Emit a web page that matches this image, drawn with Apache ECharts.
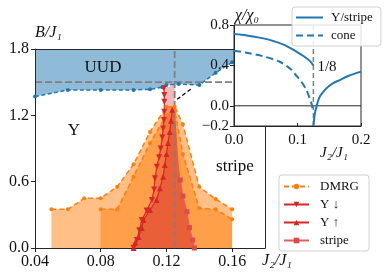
<!DOCTYPE html>
<html><head><meta charset="utf-8">
<script src="https://cdn.jsdelivr.net/npm/echarts@6/dist/echarts.min.js"></script>
<style>html,body{margin:0;padding:0;background:#fff}#c{width:388px;height:278px}</style>
</head><body><div id="c"></div>
<script>
// ---------- data ----------
const mainXTicks = [0.04, 0.08, 0.12, 0.16];
const mainYTicks = [0.0, 0.6, 1.2, 1.8];
const insetXTicks = [0.0, 0.1, 0.2];
const insetYTicks = [-0.2, 0.0, 0.4, 0.8];

// UUD lower boundary (blue dashed)
const uudBoundary = [[0.04,1.37],[0.06,1.43],[0.08,1.43],[0.10,1.43],[0.11,1.435],[0.1175,1.455],[0.12,1.475],[0.1275,1.483],[0.14,1.474],[0.15,1.585],[0.16,1.68],[0.17,1.76],[0.18,1.80]];
// DMRG boundaries
const dmrgOuter = [[0.05,0.35],[0.06,0.35],[0.07,0.45],[0.08,0.45],[0.09,0.554],[0.10,0.757],[0.11,1.05],[0.12,1.277],[0.125,1.277],[0.13,1.12],[0.14,0.554],[0.15,0.443],[0.16,0.35]];
const dmrgInner = [[0.08,0.35],[0.09,0.35],[0.10,0.645],[0.11,0.95],[0.12,1.2],[0.125,1.25],[0.13,0.85],[0.14,0.36],[0.15,0.35],[0.16,0.26]];
// Y down / Y up / stripe
const yDown = [[0.100,0.0],[0.102,0.072],[0.1035,0.16],[0.105,0.253],[0.108,0.34],[0.1112,0.434],[0.1125,0.53],[0.113,0.63],[0.1142,0.735],[0.1155,0.82],[0.1165,0.9],[0.1175,1.0],[0.118,1.08],[0.1185,1.157],[0.1187,1.232],[0.1187,1.323],[0.1187,1.383],[0.1185,1.444]];
const yUp = [[0.100,0.0],[0.101,0.05],[0.103,0.10],[0.105,0.18],[0.106,0.253],[0.110,0.344],[0.114,0.434],[0.116,0.54],[0.118,0.645],[0.119,0.75],[0.120,0.85],[0.121,0.95],[0.122,1.05],[0.1228,1.15],[0.1235,1.25]];
const stripeUpper = [[0.125,1.475],[0.125,1.27],[0.1258,1.1],[0.1265,0.95],[0.1272,0.8]];
const stripe = [[0.1284,0.615],[0.130,0.47],[0.1325,0.328],[0.134,0.184],[0.136,0.072],[0.137,0.0]];
const dashSegment = [[0.1265,1.345],[0.1355,1.444]];

// inset: susceptibility
const chiYLeft = [[0,0.71],[0.02,0.697],[0.04,0.675],[0.06,0.645],[0.08,0.6],[0.10,0.53],[0.11,0.49],[0.12,0.44],[0.125,0.40]];
const chiYRight = [[0.125,-0.2],[0.1255,-0.173],[0.127,-0.09],[0.1298,-0.009],[0.135,0.09],[0.1455,0.173],[0.155,0.22],[0.1665,0.255],[0.18,0.295],[0.2,0.338]];
const chiCone = [[0,0.545],[0.02,0.525],[0.046,0.49],[0.072,0.436],[0.09,0.36],[0.098,0.30],[0.106,0.24],[0.114,0.156],[0.1195,0.07],[0.122,0.025],[0.124,-0.04]];

// ---------- styling ----------
const SERIF = '"Liberation Serif","DejaVu Serif",serif';
const AX = '#262626';
const BLUE = '#1f77b4', ORANGE = '#ff7f0e', RED = '#d62728', GRAY = '#808080';

function poly(points, fill, z) {
  return {type:'custom', xAxisIndex:0, yAxisIndex:0, z:z, silent:true, clip:true,
    data:[[0.1,0.5]],
    renderItem:(params, api) => ({type:'polygon',
      shape:{points: points.map(p => api.coord(p))}, style:{fill:fill}})};
}
const uudPoly = [[0.04,1.8],[0.18,1.8]].concat(uudBoundary.slice().reverse());
const outerPoly = dmrgOuter.concat([[0.16,0],[0.05,0]]);
const innerPoly = dmrgInner.concat([[0.16,0],[0.08,0]]);
const red1Poly = yDown.concat(stripeUpper, stripe);
const red2Poly = yUp.concat([[0.125,1.27]], stripeUpper.slice(2), stripe);

function lineS(name, data, color, opts) {
  return Object.assign({type:'line', name:name, data:data, xAxisIndex:0, yAxisIndex:0, z:4,
    symbol:'none', silent:true, clip:true,
    lineStyle:{color:color, width:1.5}, itemStyle:{color:color}}, opts || {});
}
function insetS(name, data, color, opts) {
  return Object.assign({type:'line', name:name, data:data, xAxisIndex:2, yAxisIndex:2, z:7,
    symbol:'none', silent:true, clip:true, smooth:0.3,
    lineStyle:{color:color, width:2}, itemStyle:{color:color}}, opts || {});
}

const tickFmt2 = v => mainXTicks.some(t => Math.abs(t - v) < 1e-9) ? v.toFixed(2) : '';
const chart = echarts.init(document.getElementById('c'), null, {renderer:'canvas'});
chart.setOption({
  animation:false,
  backgroundColor:'#fff',
  grid:[
    {left:35, top:49, width:230, height:199},
    {left:234, top:25, width:127, height:101, show:true, backgroundColor:'#fff', borderColor:AX, borderWidth:1, z:5}
  ],
  xAxis:[
    {type:'value', gridIndex:0, min:0.04, max:0.18, interval:0.04, z:3,
     axisLine:{show:true, onZero:false, lineStyle:{color:AX, width:1}},
     axisTick:{show:true, length:4, lineStyle:{color:AX}},
     splitLine:{show:false},
     axisLabel:{margin:6, formatter:tickFmt2, fontFamily:SERIF, fontSize:16, color:'#111', showMaxLabel:false}},
    {type:'value', gridIndex:0, position:'top', min:0.04, max:0.18, z:3,
     axisLine:{show:true, onZero:false, lineStyle:{color:AX, width:1}},
     axisTick:{show:false}, axisLabel:{show:false}, splitLine:{show:false}},
    {type:'value', gridIndex:1, min:0, max:0.2, interval:0.1, z:6,
     axisLine:{show:true, onZero:false, lineStyle:{color:AX}},
     axisTick:{show:true, inside:true, length:3, lineStyle:{color:AX}},
     splitLine:{show:false},
     axisLabel:{margin:7, formatter:v => v.toFixed(1), fontFamily:SERIF, fontSize:15, color:'#111'}}
  ],
  yAxis:[
    {type:'value', gridIndex:0, min:0, max:1.8, interval:0.6, z:3,
     axisLine:{show:true, onZero:false, lineStyle:{color:AX, width:1}},
     axisTick:{show:true, length:4, lineStyle:{color:AX}},
     splitLine:{show:false},
     axisLabel:{margin:6, formatter:v => v.toFixed(1), fontFamily:SERIF, fontSize:16, color:'#111'}},
    {type:'value', gridIndex:0, position:'right', min:0, max:1.8, z:3,
     axisLine:{show:true, onZero:false, lineStyle:{color:AX, width:1}},
     axisTick:{show:false}, axisLabel:{show:false}, splitLine:{show:false}},
    {type:'value', gridIndex:1, min:-0.2, max:0.8, z:6,
     axisLine:{show:true, onZero:false, lineStyle:{color:AX}},
     axisTick:{show:true, length:4, customValues:insetYTicks, lineStyle:{color:AX}},
     splitLine:{show:false},
     axisLabel:{margin:5, customValues:insetYTicks, formatter:v => (v < 0 ? '\u2212' + Math.abs(v).toFixed(1) : v.toFixed(1)), fontFamily:SERIF, fontSize:15, color:'#111'}}
  ],
  legend:[
    {data:[{name:'DMRG'},{name:'Y \u2193'},{name:'Y \u2191'},{name:'stripe'}],
     orient:'vertical', left:279, top:175, itemWidth:25, itemHeight:7, itemGap:5,
     padding:[5,10,4,4], borderColor:'#d0d0d0', borderWidth:1, borderRadius:3,
     backgroundColor:'rgba(255,255,255,0.85)', selectedMode:false, z:20,
     textStyle:{fontFamily:SERIF, fontSize:13, color:'#111', lineHeight:13, padding:[0,0,0,6]}},
    {data:[{name:'Y/stripe'},{name:'cone'}],
     orient:'vertical', left:292, top:7, itemWidth:27, itemHeight:7, itemGap:5,
     padding:[4,8,4,3], borderColor:'#d0d0d0', borderWidth:1, borderRadius:3,
     backgroundColor:'rgba(255,255,255,0.85)', selectedMode:false, z:20,
     itemStyle:{opacity:0, color:'rgba(0,0,0,0)', borderWidth:0},
     textStyle:{fontFamily:SERIF, fontSize:13, color:'#111', lineHeight:13, padding:[0,0,0,3]}}
  ],
  series:[
    poly(uudPoly, 'rgba(31,119,180,0.5)', 1),
    poly(outerPoly, 'rgba(255,127,14,0.5)', 1),
    poly(innerPoly, 'rgba(255,127,14,0.5)', 1),
    poly(red1Poly, 'rgba(214,39,40,0.32)', 1),
    poly(red2Poly, 'rgba(214,39,40,0.32)', 1),
    lineS('h15', [[0.04,1.5],[0.18,1.5]], GRAY, {lineStyle:{color:GRAY, width:1.8, type:[7,3]}, z:2}),
    lineS('v125', [[0.125,0],[0.125,1.8]], GRAY, {lineStyle:{color:GRAY, width:1.8, type:[7,3]}, z:2}),
    lineS('uud', uudBoundary, BLUE, {symbol:'circle', symbolSize:4, lineStyle:{color:BLUE, width:1.5, type:[4,2.5]}}),
    lineS('DMRG', dmrgOuter, ORANGE, {symbol:'circle', symbolSize:4, lineStyle:{color:ORANGE, width:1.5, type:[5,3]}}),
    lineS('DMRG', dmrgInner, ORANGE, {symbol:'circle', symbolSize:4, lineStyle:{color:ORANGE, width:1.5, type:[5,3]}}),
    lineS('Y \u2193', yDown, RED, {symbol:'triangle', symbolRotate:180, symbolSize:6, lineStyle:{color:RED, width:1.2}}),
    lineS('Y \u2191', yUp, RED, {symbol:'triangle', symbolSize:6, lineStyle:{color:RED, width:1.2}}),
    lineS('stripe', stripe, '#dc4a4b', {symbol:'rect', symbolSize:5, lineStyle:{color:'#e06061', width:1.2}}),
    lineS('seg', dashSegment, '#000', {lineStyle:{color:'#000', width:1.3, type:[4,2.5]}}),
    // inset
    insetS('zero', [[0,0],[0.2,0]], AX, {smooth:false, lineStyle:{color:AX, width:1}}),
    insetS('v8', [[0.125,-0.2],[0.125,0.8]], GRAY, {smooth:false, lineStyle:{color:GRAY, width:1.5, type:[5,3]}}),
    insetS('Y/stripe', chiYLeft, BLUE),
    insetS('Y/stripe', chiYRight, BLUE),
    insetS('cone', chiCone, BLUE, {lineStyle:{color:BLUE, width:2, type:[7,4]}})
  ],
  graphic:[
    {type:'text', x:35, y:33, z:100, style:{text:'B/J\u2081', font:'italic 16px '+SERIF, fill:'#111', textAlign:'left', textVerticalAlign:'middle'}},
    {type:'text', x:103, y:68, z:100, style:{text:'UUD', font:'17px '+SERIF, fill:'#111', textAlign:'center', textVerticalAlign:'middle'}},
    {type:'text', x:74, y:131, z:100, style:{text:'Y', font:'17px '+SERIF, fill:'#111', textAlign:'center', textVerticalAlign:'middle'}},
    {type:'text', x:235, y:167, z:100, style:{text:'stripe', font:'17px '+SERIF, fill:'#111', textAlign:'center', textVerticalAlign:'middle'}},
    {type:'text', x:277, y:261, z:100, style:{text:'J\u2082/J\u2081', font:'italic 16px '+SERIF, fill:'#111', textAlign:'center', textVerticalAlign:'middle'}},
    {type:'text', x:334, y:153, z:100, style:{text:'J\u2082/J\u2081', font:'italic 15px '+SERIF, fill:'#111', textAlign:'center', textVerticalAlign:'middle'}},
    {type:'text', x:247, y:16, z:100, style:{text:'\u03c7/\u03c7\u2080', font:'italic 16px '+SERIF, fill:'#111', textAlign:'center', textVerticalAlign:'middle'}},
    {type:'text', x:327, y:67, z:100, style:{text:'1/8', font:'15px '+SERIF, fill:'#111', textAlign:'center', textVerticalAlign:'middle'}}
  ]
});
</script></body></html>
